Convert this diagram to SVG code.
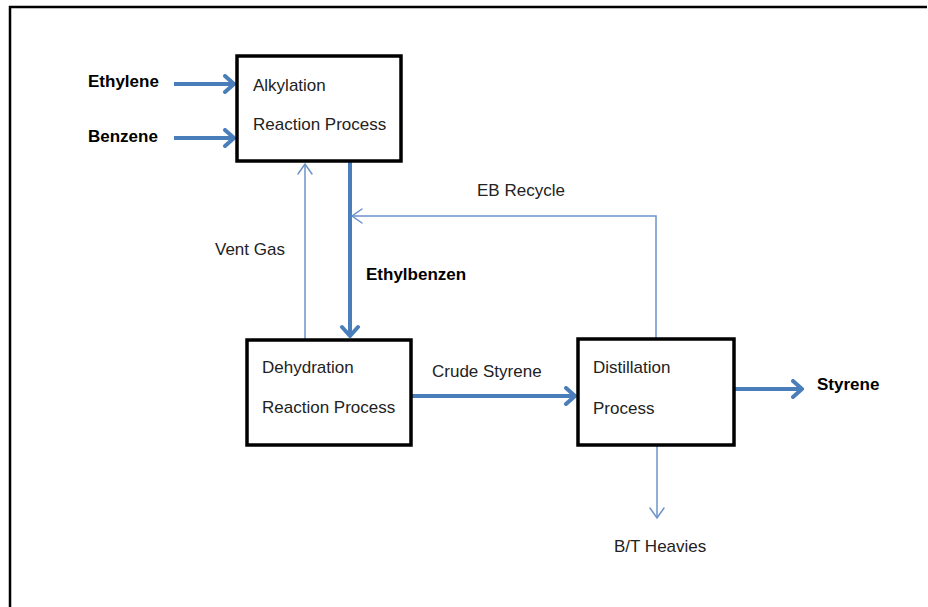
<svg xmlns="http://www.w3.org/2000/svg" width="928" height="607" viewBox="0 0 928 607">
<style>
.box{fill:#fff;stroke:#000;stroke-width:3.5}
.lbl{font-family:"Liberation Sans",Arial,sans-serif;font-size:17px;fill:#222}
.bold{font-family:"Liberation Sans",Arial,sans-serif;font-size:17px;font-weight:bold;fill:#000}
.thick{stroke:#4a7ebb;stroke-width:4;fill:none}
.thin{stroke:#6b93c9;stroke-width:1.5;fill:none}
.headk{stroke:#4a7ebb;stroke-width:4;fill:none;stroke-linecap:round;stroke-linejoin:round}
.headn{stroke:#6b93c9;stroke-width:1.5;fill:none;stroke-linecap:round}
</style>
<defs>
<marker id="ak" viewBox="-12 -10 14 20" markerWidth="14" markerHeight="20" refX="0" refY="0" markerUnits="userSpaceOnUse" orient="auto">
<path class="headk" d="M-9,-8 L0,0 L-9,8"/>
</marker>
<marker id="an" viewBox="-12 -10 14 20" markerWidth="14" markerHeight="20" refX="0" refY="0" markerUnits="userSpaceOnUse" orient="auto">
<path class="headn" d="M-10,-7 L0,0 L-10,7"/>
</marker>
</defs>
<rect width="928" height="607" fill="#fff"/>
<g id="frame">
<line x1="9" y1="7" x2="927" y2="7" stroke="#000" stroke-width="2.5"/>
<line x1="10" y1="6" x2="10" y2="607" stroke="#000" stroke-width="2.5"/>
</g>
<g id="connectors">
<line class="thick" x1="174" y1="84" x2="234" y2="84" marker-end="url(#ak)"/>
<line class="thick" x1="174" y1="138" x2="234" y2="138" marker-end="url(#ak)"/>
<line class="thin" x1="305" y1="340" x2="305" y2="164" marker-end="url(#an)"/>
<line class="thick" x1="350" y1="162" x2="350" y2="336" marker-end="url(#ak)"/>
<polyline class="thin" points="656,339 656,216 352,216" marker-end="url(#an)"/>
<line class="thick" x1="411" y1="396" x2="575" y2="396" marker-end="url(#ak)"/>
<line class="thick" x1="734" y1="389" x2="802" y2="389" marker-end="url(#ak)"/>
<line class="thin" x1="657" y1="445" x2="657" y2="518" marker-end="url(#an)"/>
</g>
<g id="alkylation">
<rect class="box" x="237" y="56" width="164" height="105"/>
<text class="lbl" x="253" y="91">Alkylation</text>
<text class="lbl" x="253" y="130">Reaction Process</text>
</g>
<g id="dehydration">
<rect class="box" x="247" y="340" width="164" height="105"/>
<text class="lbl" x="262" y="373">Dehydration</text>
<text class="lbl" x="262" y="413">Reaction Process</text>
</g>
<g id="distillation">
<rect class="box" x="578" y="339" width="156" height="106"/>
<text class="lbl" x="593" y="373">Distillation</text>
<text class="lbl" x="593" y="414">Process</text>
</g>
<g id="labels">
<text class="bold" x="88" y="87">Ethylene</text>
<text class="bold" x="88" y="142">Benzene</text>
<text class="lbl" x="215" y="255">Vent Gas</text>
<text class="bold" x="366" y="280">Ethylbenzen</text>
<text class="lbl" x="477" y="196">EB Recycle</text>
<text class="lbl" x="432" y="377">Crude Styrene</text>
<text class="bold" x="817" y="390">Styrene</text>
<text class="lbl" x="614" y="552">B/T Heavies</text>
</g>
</svg>
